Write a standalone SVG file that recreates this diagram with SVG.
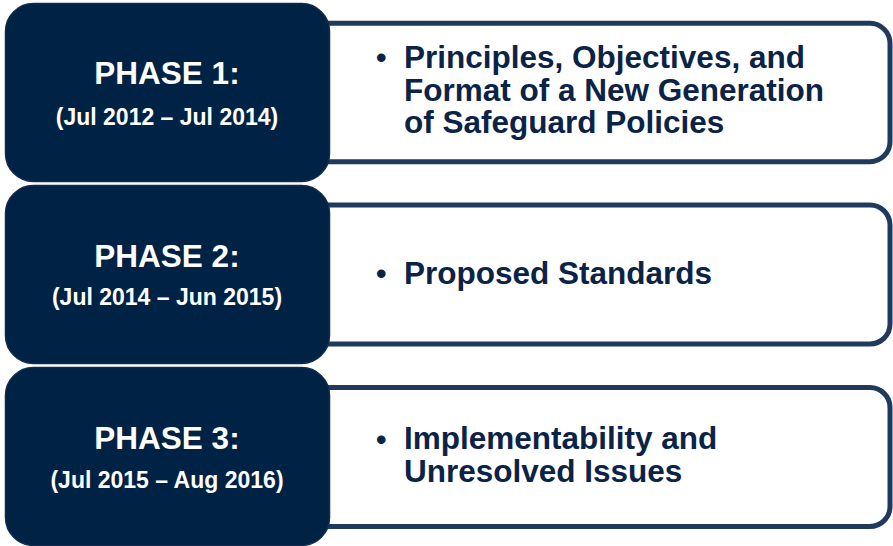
<svg xmlns="http://www.w3.org/2000/svg" width="893" height="546" viewBox="0 0 893 546">
<style>
.card{fill:#ffffff;stroke:#1f3a5d;stroke-width:5}
.phase{fill:#002244;stroke:#0f2c4f;stroke-width:1.5}
.t{font-family:"Liberation Sans",Arial,sans-serif;font-weight:bold}
.title{fill:#ffffff;font-size:31.5px;text-anchor:middle}
.date{fill:#ffffff;font-size:23px;text-anchor:middle}
.body{fill:#0b2346;font-size:31.5px}
.bullet{fill:#0b2346;font-size:30px}
</style>
<rect width="893" height="546" fill="#ffffff"/>
<g id="phase1">
<rect class="card" x="290" y="23.3" width="600" height="138.4" rx="20"/>
<rect class="phase" x="5.5" y="3.5" width="324" height="178" rx="28"/>
<text class="t title" x="167" y="84.3">PHASE 1:</text>
<text class="t date" x="167" y="125">(Jul 2012 – Jul 2014)</text>
<text class="t bullet" x="376" y="68">•</text>
<text class="t body" x="404" y="67.7">Principles, Objectives, and</text>
<text class="t body" x="404" y="100.5">Format of a New Generation</text>
<text class="t body" x="404" y="133.3">of Safeguard Policies</text>
</g>
<g id="phase2">
<rect class="card" x="290" y="205" width="600" height="139" rx="20"/>
<rect class="phase" x="5.5" y="185.5" width="324" height="178" rx="28"/>
<text class="t title" x="167" y="266.7">PHASE 2:</text>
<text class="t date" x="167" y="305">(Jul 2014 – Jun 2015)</text>
<text class="t bullet" x="376" y="284">•</text>
<text class="t body" x="404" y="283.5">Proposed Standards</text>
</g>
<g id="phase3">
<rect class="card" x="290" y="387.5" width="600" height="139" rx="20"/>
<rect class="phase" x="5.5" y="367.5" width="324" height="178" rx="28"/>
<text class="t title" x="167" y="448.5">PHASE 3:</text>
<text class="t date" x="167" y="488">(Jul 2015 – Aug 2016)</text>
<text class="t bullet" x="376" y="449.5">•</text>
<text class="t body" x="404" y="449.3">Implementability and</text>
<text class="t body" x="404" y="481.9">Unresolved Issues</text>
</g>
<g id="connectors"></g>
</svg>
